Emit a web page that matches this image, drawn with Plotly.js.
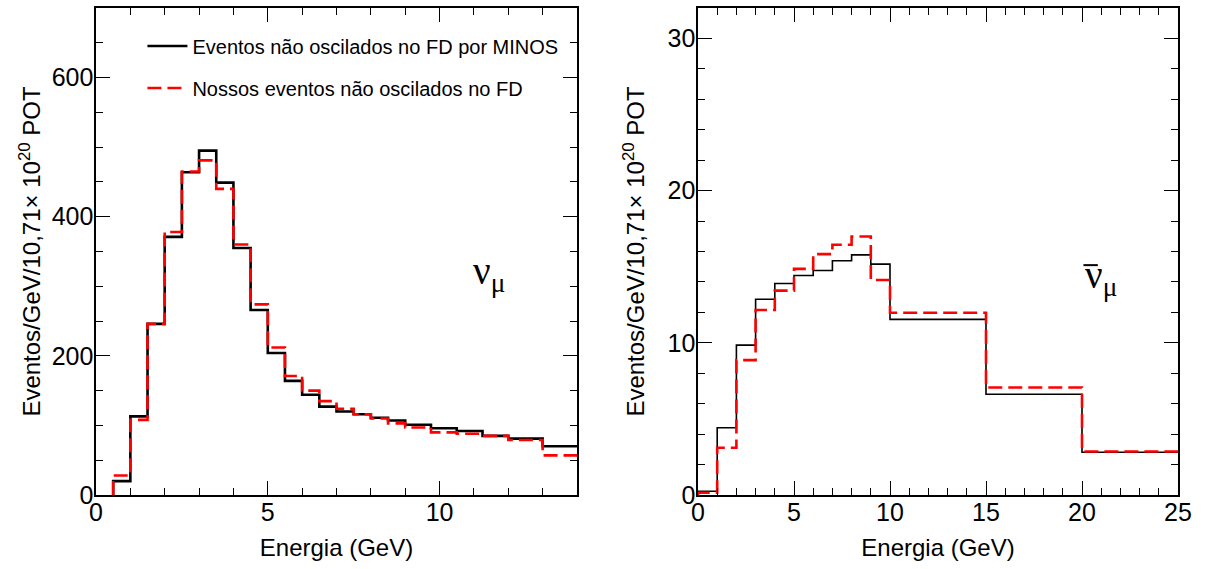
<!DOCTYPE html>
<html>
<head>
<meta charset="utf-8">
<script src="https://cdn.plot.ly/plotly-3.0.1.min.js"></script>
<style>html,body{margin:0;padding:0;background:#fff}</style>
</head>
<body>
<div id="chart" style="width:1207px;height:569px"></div>
<script>
// ---- data ----
const edgesNu = [0.5,1,1.5,2,2.5,3,3.5,4,4.5,5,5.5,6,6.5,7,7.5,8,8.5,9,9.75,10.5,11.25,12,13,14];
const minosNu = [20,113,246,371,464,495,449,355,266,204,164,144,127,120,116,111,107,101,96,92,85,81,70];
const oursNu  = [28,108,246,378,465,481,440,360,274,212,171,150,135,124,116,110,103,97,90,88,85,79,57];

const edgesNuBar = [0,1,2,3,4,5,6,7,8,9,10,15,20,25];
const minosNuBar = [0.25,4.42,9.85,12.86,13.9,14.42,14.75,15.39,15.78,15.17,11.54,6.62,2.81];
const oursNuBar  = [0.15,3.1,8.86,12.16,13.43,14.86,15.83,16.44,16.99,14.13,11.98,7.06,2.86];

const nameMinos = "Eventos não oscilados no FD por MINOS";
const nameOurs  = "Nossos eventos não oscilados no FD";
const xTitle = "Energia (GeV)";
const yTitle = "Eventos/GeV/10,71× 10<sup>20</sup> POT";

// build step (histogram) outline from edges + bin contents
function step(edges, vals) {
  const x = [edges[0]].concat(edges);
  const y = [0].concat(vals, [vals[vals.length - 1]]);
  return {x, y};
}

const sA = step(edgesNu, minosNu), sB = step(edgesNu, oursNu);
const sC = step(edgesNuBar, minosNuBar), sD = step(edgesNuBar, oursNuBar);

const red = "#ff0000";
const traces = [
  {x: sA.x, y: sA.y, type: "scatter", mode: "lines", line: {shape: "hv", color: "#000", width: 2.6},
   name: nameMinos, legendgroup: "a", xaxis: "x", yaxis: "y"},
  {x: sB.x, y: sB.y, type: "scatter", mode: "lines", line: {shape: "hv", color: red, width: 2.6, dash: "14px,6px"},
   name: nameOurs, legendgroup: "b", xaxis: "x", yaxis: "y"},
  {x: sC.x, y: sC.y, type: "scatter", mode: "lines", line: {shape: "hv", color: "#000", width: 1.6},
   showlegend: false, xaxis: "x2", yaxis: "y2"},
  {x: sD.x, y: sD.y, type: "scatter", mode: "lines", line: {shape: "hv", color: red, width: 2.6, dash: "14px,6px"},
   showlegend: false, xaxis: "x2", yaxis: "y2"}
];

const F = "Liberation Sans, Arial, sans-serif";
const SERIF = "Liberation Serif, Times New Roman, serif";
function axisBase(extra) {
  return Object.assign({
    showgrid: false, zeroline: false, showline: true, linecolor: "#000", linewidth: 1.6,
    mirror: "allticks", ticks: "inside", ticklen: 14, tickwidth: 1, tickcolor: "#000",
    tickfont: {family: F, size: 25, color: "#000"}, fixedrange: true
  }, extra);
}
const minorX = {dtick: 1, ticklen: 7, ticks: "inside", tickcolor: "#000"};

const layout = {
  width: 1207, height: 569,
  margin: {l: 0, r: 0, t: 8, b: 74},
  paper_bgcolor: "#fff", plot_bgcolor: "#fff",
  font: {family: F, color: "#000"},
  showlegend: true,
  legend: {x: 0.118, y: 0.962, xanchor: "left", yanchor: "top", bgcolor: "rgba(0,0,0,0)",
           font: {family: F, size: 20, color: "#000"}, tracegroupgap: 13, itemwidth: 40},
  xaxis: axisBase({domain: [96/1207, 577/1207], range: [0, 14], dtick: 5, tick0: 0,
    minor: minorX, ticklabelstandoff: -6,
    title: {text: xTitle, font: {family: F, size: 24}, standoff: 14}, anchor: "y"}),
  yaxis: axisBase({domain: [0, 1], range: [0, 700], dtick: 200, tick0: 0,
    minor: {dtick: 50, ticklen: 7, ticks: "inside", tickcolor: "#000"}, ticklabelstandoff: -4,
    title: {text: yTitle, font: {family: F, size: 24}, standoff: 4}, anchor: "x"}),
  xaxis2: axisBase({domain: [698/1207, 1178/1207], range: [0, 25], dtick: 5, tick0: 0,
    minor: minorX, ticklabelstandoff: -6,
    title: {text: xTitle, font: {family: F, size: 24}, standoff: 14}, anchor: "y2"}),
  yaxis2: axisBase({domain: [0, 1], range: [0, 32], dtick: 10, tick0: 0,
    minor: {dtick: 2, ticklen: 7, ticks: "inside", tickcolor: "#000"}, ticklabelstandoff: -4,
    title: {text: yTitle, font: {family: F, size: 24}, standoff: 16}, anchor: "x2"}),
  annotations: [
    {xref: "x domain", yref: "y domain", x: 0.855, y: 0.455, showarrow: false,
     text: "ν<sub>μ</sub>", font: {family: SERIF, size: 39, color: "#000"}},
    {xref: "x2 domain", yref: "y2 domain", x: 0.877, y: 0.447, showarrow: false,
     text: "ν<sub>μ</sub>", font: {family: SERIF, size: 39, color: "#000"}}
  ],
  shapes: [
    // overline of the anti-neutrino symbol
    {type: "line", xref: "x2 domain", yref: "y2 domain", x0: 0.803, x1: 0.833, y0: 0.472, y1: 0.472,
     line: {color: "#000", width: 2}}
  ]
};

Plotly.newPlot("chart", traces, layout, {displayModeBar: false, staticPlot: true});
</script>
</body>
</html>
